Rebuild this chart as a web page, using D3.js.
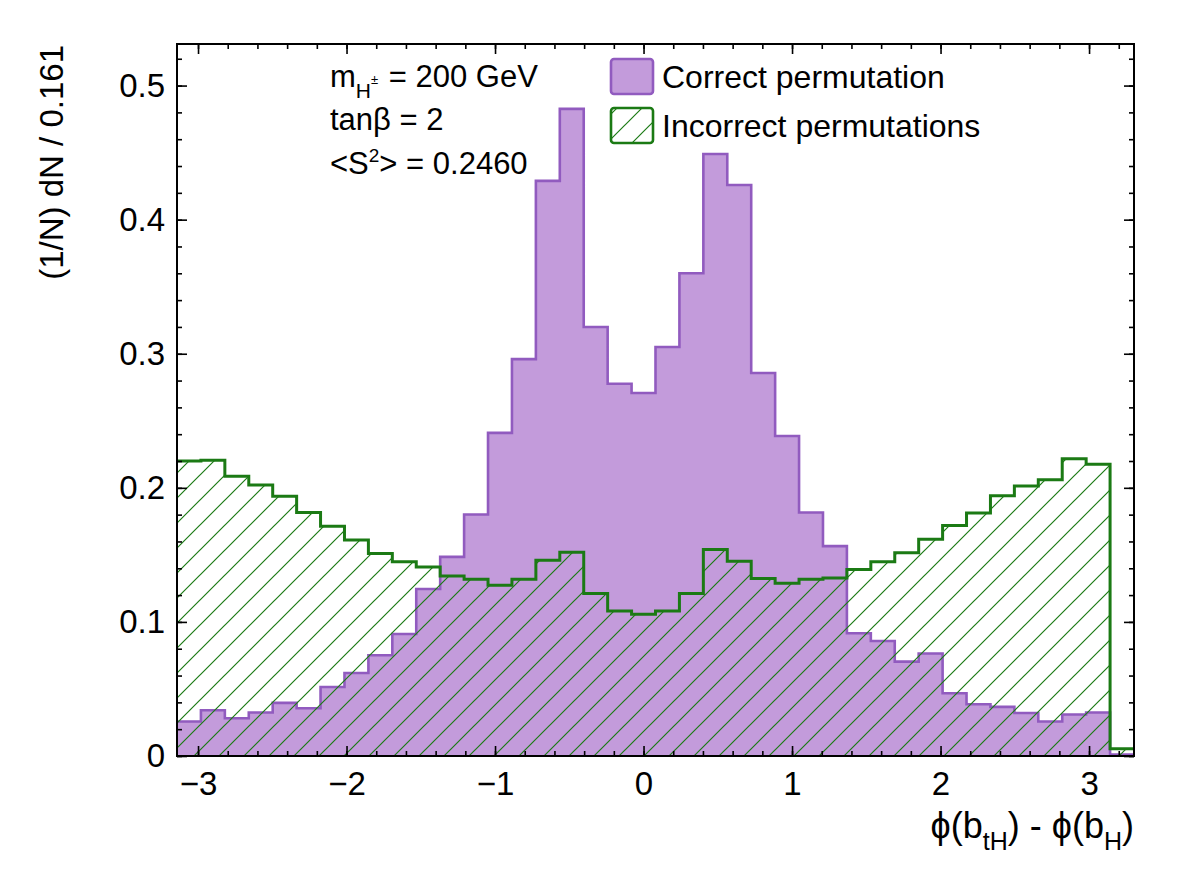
<!DOCTYPE html>
<html>
<head>
<meta charset="utf-8">
<script src="https://cdn.jsdelivr.net/npm/d3@7/dist/d3.min.js"></script>
<style>
  body { margin: 0; background: #fff; }
  text { font-family: "Liberation Sans", Arial, Helvetica, sans-serif; fill: #000; }
</style>
</head>
<body>
<div id="chart"></div>
<script>
// histogram: 40 bins of width 2pi/39 starting at -pi
var xMin = -Math.PI;
var binWidth = 2 * Math.PI / 39;

// (1/N) dN per bin
var correct = [0.0257, 0.0341, 0.0281, 0.0324, 0.0396, 0.0356, 0.0515, 0.0619, 0.0751, 0.0910,
               0.1245, 0.1485, 0.1801, 0.2410, 0.2960, 0.4289, 0.4826, 0.3199, 0.2776, 0.2707,
               0.3050, 0.3600, 0.4490, 0.4259, 0.2856, 0.2386, 0.1816, 0.1565, 0.0916, 0.0858,
               0.0704, 0.0764, 0.0468, 0.0386, 0.0366, 0.0321, 0.0257, 0.0309, 0.0324, 0.0010];
var incorrect = [0.2201, 0.2205, 0.2087, 0.2022, 0.1938, 0.1816, 0.1714, 0.1610, 0.1510, 0.1448,
                 0.1409, 0.1343, 0.1319, 0.1274, 0.1319, 0.1460, 0.1520, 0.1212, 0.1082, 0.1057,
                 0.1082, 0.1212, 0.1540, 0.1453, 0.1324, 0.1289, 0.1319, 0.1328, 0.1391, 0.1448,
                 0.1515, 0.1617, 0.1719, 0.1813, 0.1940, 0.2013, 0.2060, 0.2216, 0.2175, 0.0055];

var xTicks = [-3, -2, -1, 0, 1, 2, 3];
var xTickLabels = ["\u22123", "\u22122", "\u22121", "0", "1", "2", "3"];
var yTicks = [0, 0.1, 0.2, 0.3, 0.4, 0.5];
var yTickLabels = ["0", "0.1", "0.2", "0.3", "0.4", "0.5"];
var legendLabels = ["Correct permutation", "Incorrect permutations"];

var W = 1182, H = 880;
var fLeft = 177, fRight = 1134, fTop = 44, fBottom = 756;

var purpleFill = "#c39bdb", purpleLine = "#915bbf", green = "#1b7a14";

var nBins = correct.length;
var x = d3.scaleLinear().domain([xMin, xMin + nBins * binWidth]).range([fLeft, fRight]);
var y = d3.scaleLinear().domain([0, 0.531]).range([fBottom, fTop]);

var svg = d3.select("#chart").append("svg")
    .attr("width", W).attr("height", H)
    .style("display", "block");
svg.append("rect").attr("width", W).attr("height", H).attr("fill", "#fff");

var defs = svg.append("defs");
defs.append("clipPath").attr("id", "frame")
    .append("rect").attr("x", fLeft).attr("y", fTop)
    .attr("width", fRight - fLeft).attr("height", fBottom - fTop);

var hatch = defs.append("pattern").attr("id", "hatch")
    .attr("patternUnits", "userSpaceOnUse")
    .attr("width", 25).attr("height", 25);
hatch.append("path")
    .attr("d", "M-5,5 L5,-5 M0,25 L25,0 M20,30 L30,20")
    .attr("stroke", green).attr("stroke-width", 1.2);

// step points: left edge of every bin, plus the last right edge
function steps(vals) {
  var pts = vals.map(function(v, i) { return [xMin + i * binWidth, v]; });
  pts.push([xMin + vals.length * binWidth, vals[vals.length - 1]]);
  return pts;
}

var area = d3.area().curve(d3.curveStepAfter)
    .x(function(d) { return x(d[0]); })
    .y0(y(0))
    .y1(function(d) { return y(d[1]); });
var line = d3.line().curve(d3.curveStepAfter)
    .x(function(d) { return x(d[0]); })
    .y(function(d) { return y(d[1]); });

var plot = svg.append("g").attr("clip-path", "url(#frame)");

plot.append("path").datum(steps(correct))
    .attr("d", area).attr("fill", purpleFill);
plot.append("path").datum(steps(correct))
    .attr("d", line).attr("fill", "none")
    .attr("stroke", purpleLine).attr("stroke-width", 2.6);

plot.append("path").datum(steps(incorrect))
    .attr("d", area).attr("fill", "url(#hatch)");
plot.append("path").datum(steps(incorrect))
    .attr("d", line).attr("fill", "none")
    .attr("stroke", green).attr("stroke-width", 3);

// axes, ticks on all four sides pointing inwards
var xMinor = d3.range(-3.2, 3.3, 0.2).map(function(v) { return Math.round(v * 10) / 10; })
    .filter(function(v) { return v >= xMin && v <= xMin + nBins * binWidth; });
var yMinor = d3.range(0, 0.531, 0.02);

function styleAxis(g) {
  g.select(".domain").remove();
  g.selectAll("line").attr("stroke", "#000").attr("stroke-width", 1.6);
}

svg.append("g").attr("transform", "translate(0," + fBottom + ")")
    .call(d3.axisBottom(x).tickValues(xMinor).tickSize(-5).tickFormat(""))
    .call(styleAxis);
svg.append("g").attr("transform", "translate(0," + fTop + ")")
    .call(d3.axisTop(x).tickValues(xMinor).tickSize(-5).tickFormat(""))
    .call(styleAxis);
svg.append("g").attr("transform", "translate(0," + fBottom + ")")
    .call(d3.axisBottom(x).tickValues(xTicks).tickSize(-10).tickPadding(16)
      .tickFormat(function(d, i) { return xTickLabels[i]; }))
    .call(styleAxis)
    .selectAll("text").attr("font-size", 33).attr("font-family", null);
svg.append("g").attr("transform", "translate(0," + fTop + ")")
    .call(d3.axisTop(x).tickValues(xTicks).tickSize(-10).tickFormat(""))
    .call(styleAxis);

svg.append("g").attr("transform", "translate(" + fLeft + ",0)")
    .call(d3.axisLeft(y).tickValues(yMinor).tickSize(-5).tickFormat(""))
    .call(styleAxis);
svg.append("g").attr("transform", "translate(" + fRight + ",0)")
    .call(d3.axisRight(y).tickValues(yMinor).tickSize(-5).tickFormat(""))
    .call(styleAxis);
svg.append("g").attr("transform", "translate(" + fLeft + ",0)")
    .call(d3.axisLeft(y).tickValues(yTicks).tickSize(-10).tickPadding(12)
      .tickFormat(function(d, i) { return yTickLabels[i]; }))
    .call(styleAxis)
    .selectAll("text").attr("font-size", 33).attr("font-family", null);
svg.append("g").attr("transform", "translate(" + fRight + ",0)")
    .call(d3.axisRight(y).tickValues(yTicks).tickSize(-10).tickFormat(""))
    .call(styleAxis);

// frame
svg.append("rect").attr("x", fLeft).attr("y", fTop)
    .attr("width", fRight - fLeft).attr("height", fBottom - fTop)
    .attr("fill", "none").attr("stroke", "#000").attr("stroke-width", 2);

// axis titles
var yt = svg.append("text")
    .attr("transform", "translate(63," + (fTop + 1) + ") rotate(-90)")
    .attr("text-anchor", "end").attr("font-size", 33);
yt.text("(1/N) dN / 0.161");

var xt = svg.append("text").attr("x", fRight).attr("y", 838)
    .attr("text-anchor", "end").attr("font-size", 36);
xt.append("tspan").text("\u03d5(b");
xt.append("tspan").attr("dy", 12).attr("font-size", 25).text("tH");
xt.append("tspan").attr("dy", -12).text(") - \u03d5(b");
xt.append("tspan").attr("dy", 12).attr("font-size", 25).text("H");
xt.append("tspan").attr("dy", -12).text(")");

// info text
var t1 = svg.append("text").attr("x", 330).attr("y", 87).attr("font-size", 31);
t1.append("tspan").text("m");
t1.append("tspan").attr("dy", 11).attr("font-size", 21).text("H");
t1.append("tspan").attr("dy", -14).attr("font-size", 13).text("\u00b1");
t1.append("tspan").attr("dy", 3).attr("dx", 2).text(" = 200 GeV");

svg.append("text").attr("x", 330).attr("y", 130).attr("font-size", 31)
    .text("tan\u03b2 = 2");

var t3 = svg.append("text").attr("x", 330).attr("y", 174).attr("font-size", 31);
t3.append("tspan").text("<S");
t3.append("tspan").attr("dy", -12).attr("font-size", 19).text("2");
t3.append("tspan").attr("dy", 12).text("> = 0.2460");

// legend
var legend = svg.append("g");
var legY = [59, 108];
legend.append("rect").attr("x", 611).attr("y", legY[0]).attr("width", 42).attr("height", 35)
    .attr("rx", 3).attr("fill", purpleFill).attr("stroke", purpleLine).attr("stroke-width", 2.6);
legend.append("rect").attr("x", 611).attr("y", legY[1]).attr("width", 42).attr("height", 35)
    .attr("rx", 3).attr("fill", "url(#hatch)").attr("stroke", green).attr("stroke-width", 2.6);
legend.selectAll("text.leg").data(legendLabels).enter().append("text")
    .attr("class", "leg")
    .attr("x", 662)
    .attr("y", function(d, i) { return legY[i] + 29; })
    .attr("font-size", 32)
    .text(function(d) { return d; });
</script>
</body>
</html>
